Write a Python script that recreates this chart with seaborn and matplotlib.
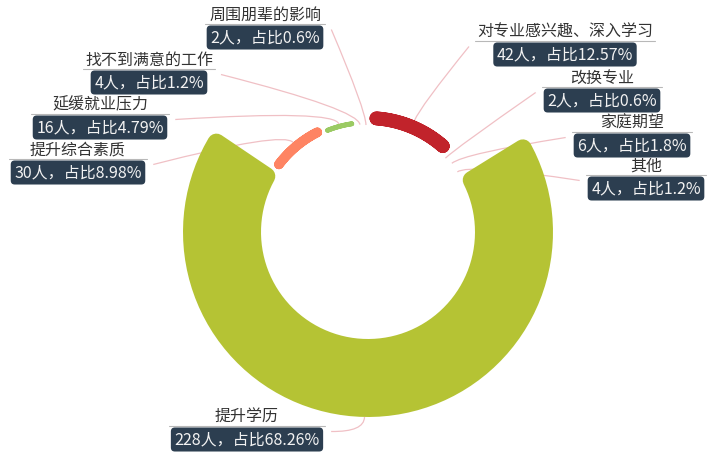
import numpy as np
import matplotlib
matplotlib.use('Agg')
import matplotlib.pyplot as plt
import seaborn as sns
from matplotlib.patches import Polygon, PathPatch
from matplotlib.path import Path

# data (clockwise from 12 o'clock)
names = ['对专业感兴趣、深入学习', '改换专业', '家庭期望', '其他', '提升学历',
         '提升综合素质', '延缓就业压力', '找不到满意的工作', '周围朋辈的影响']
counts = [42, 2, 6, 4, 228, 30, 16, 4, 2]
colors = ['#c1232b', '#fcce10', '#e87c25', '#27727b', '#b5c334',
          '#fe8463', '#9bca63', '#fad860', '#f3a43b']

# label block positions (centre x, name line y) in pixels
label_pos = [(565, 32), (602, 78), (632, 123), (646, 166), (247, 417),
             (78, 150), (100, 105), (149, 60), (265, 15)]

sns.set_theme(style='white')
plt.rcParams['font.family'] = ['Noto Sans CJK SC', 'DejaVu Sans']
palette = sns.color_palette(colors)

CX, CY = 368, 232
R_IN, R_OUT = 107, 185
CORNER = 9
GAP = 1.5
DPI = 100

fig = plt.figure(figsize=(7.08, 4.53), dpi=DPI)
ax = fig.add_axes([0, 0, 1, 1])
ax.set_xlim(0, 708)
ax.set_ylim(453, 0)
ax.axis('off')

total = sum(counts)
vmin, vmax = min(counts), max(counts)
edges = np.cumsum([0] + counts) / total * 2 * np.pi


def pt(t, r):
    return CX + r * np.sin(t), CY - r * np.cos(t)


def rounded_sector(t1, t2, r_in, r_out, color):
    thick = r_out - r_in
    # very thin slices vanish behind the white border in the original
    if thick < 2:
        return
    d = min(CORNER, thick / 2)
    ro, ri = r_out - d, r_in + d
    side = d + GAP
    a_o = np.arcsin(min(side / ro, 1))
    a_i = np.arcsin(min(side / ri, 1))
    if t2 - t1 <= 2 * a_i:
        return
    to = np.linspace(t1 + a_o, t2 - a_o, 80)
    ti = np.linspace(t2 - a_i, t1 + a_i, 80)
    xs = np.concatenate([CX + ro * np.sin(to), CX + ri * np.sin(ti)])
    ys = np.concatenate([CY - ro * np.cos(to), CY - ri * np.cos(ti)])
    poly = Polygon(np.column_stack([xs, ys]), closed=True, facecolor=color,
                   edgecolor=color, linewidth=2 * d * 72 / DPI,
                   joinstyle='round', zorder=2)
    ax.add_patch(poly)


outer_r = []
for i, v in enumerate(counts):
    r = R_IN + (v - vmin) / (vmax - vmin) * (R_OUT - R_IN)
    outer_r.append(r)
    rounded_sector(edges[i], edges[i + 1], R_IN, r, palette[i])

# labels
name_texts, box_texts = [], []
for i, v in enumerate(counts):
    cx, ny = label_pos[i]
    pct = round(v / total * 100, 2)
    t1 = ax.text(cx, ny, names[i], ha='center', va='center', fontsize=11.5,
                 color='#333333', zorder=4)
    t2 = ax.text(cx, ny + 22.5, f'{v}人，占比{pct:g}%', ha='center', va='center',
                 fontsize=11.5, color='#f2f2f2', zorder=4,
                 bbox=dict(boxstyle='round,pad=0.22,rounding_size=0.25',
                           fc='#2c3e50', ec='none'))
    name_texts.append(t1)
    box_texts.append(t2)

fig.canvas.draw()
renderer = fig.canvas.get_renderer()
inv = ax.transData.inverted()

for i, v in enumerate(counts):
    cx, ny = label_pos[i]
    e1 = name_texts[i].get_window_extent(renderer)
    e2 = box_texts[i].get_bbox_patch().get_window_extent(renderer)
    x0 = min(e1.x0, e2.x0)
    x1 = max(e1.x1, e2.x1)
    (dx0, _), (dx1, _) = inv.transform([(x0, 0), (x1, 0)])
    uy = ny + 8.5
    ax.plot([dx0 - 2, dx1 + 2], [uy, uy], color='#b8b8b8', lw=0.8, zorder=3)

    # smooth label line from slice edge to the label block
    mid = (edges[i] + edges[i + 1]) / 2
    right = mid < np.pi
    ex = dx0 - 8 if right else dx1 + 8
    ey = uy + 6
    sx, sy = pt(mid, outer_r[i])
    qx, qy = pt(mid, outer_r[i] + 15)
    path = Path([(sx, sy), (qx, qy), (ex, ey)],
                [Path.MOVETO, Path.CURVE3, Path.CURVE3])
    ax.add_patch(PathPatch(path, facecolor='none', edgecolor='#f0c0c5',
                           lw=0.9, zorder=1))

fig.savefig('out.png', dpi=DPI)
